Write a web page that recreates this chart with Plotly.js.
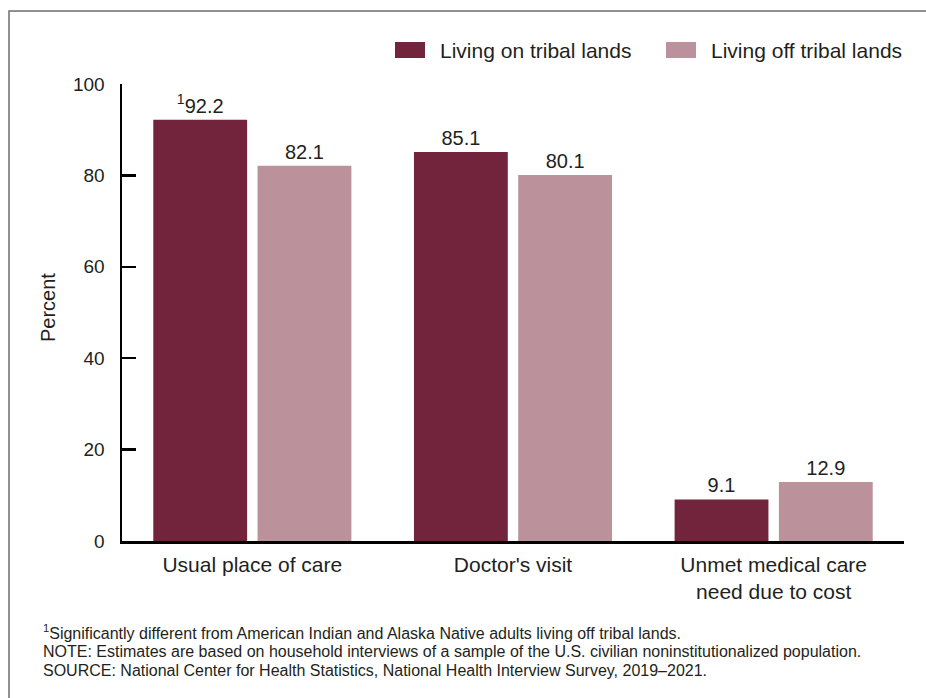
<!DOCTYPE html>
<html>
<head>
<meta charset="utf-8">
<script src="https://cdn.plot.ly/plotly-3.0.1.min.js"></script>
<style>
html,body{margin:0;padding:0;background:#fff;}
#chart{width:926px;height:698px;}
</style>
</head>
<body>
<div id="chart"></div>
<script>
var categories = ["Usual place of care", "Doctor's visit", "Unmet medical care<br>need due to cost"];
var seriesNames = ["Living on tribal lands", "Living off tribal lands"];
var onTribal = [92.2, 85.1, 9.1];
var offTribal = [82.1, 80.1, 12.9];
var onTribalFlag = [true, false, false];
var offTribalFlag = [false, false, false];
var yTicks = [0, 20, 40, 60, 80, 100];
var footnotes = [
  "<sup>1</sup>Significantly different from American Indian and Alaska Native adults living off tribal lands.",
  "NOTE: Estimates are based on household interviews of a sample of the U.S. civilian noninstitutionalized population.",
  "SOURCE: National Center for Health Statistics, National Health Interview Survey, 2019–2021."
];

var W = 926, H = 698;
var M = {l: 122, r: 22, t: 84, b: 157};
var pw = W - M.l - M.r, ph = H - M.t - M.b;
function px(x){ return (x - M.l) / pw; }
function py(y){ return (H - M.b - y) / ph; }

var FONT = "Liberation Sans, Arial, Helvetica, sans-serif";
var TXT = "#231f20";
var DARK = "#73243d";
var LIGHT = "#bb919b";

function labels(vals, flags){
  return vals.map(function(v, i){ return (flags[i] ? "<sup>1</sup>" : "") + v.toFixed(1); });
}

var traces = [
  {type: "bar", name: seriesNames[0], x: categories, y: onTribal,
   marker: {color: DARK}, text: labels(onTribal, onTribalFlag),
   textposition: "outside", cliponaxis: false, hoverinfo: "none",
   textfont: {family: FONT, size: 20, color: TXT}},
  {type: "bar", name: seriesNames[1], x: categories, y: offTribal,
   marker: {color: LIGHT}, text: labels(offTribal, offTribalFlag),
   textposition: "outside", cliponaxis: false, hoverinfo: "none",
   textfont: {family: FONT, size: 20, color: TXT}}
];

var shapes = [
  {type: "rect", xref: "paper", yref: "paper",
   x0: px(9), x1: px(960), y0: py(11), y1: py(740),
   line: {color: "#6d6d6d", width: 1.5}, fillcolor: "rgba(0,0,0,0)", layer: "below"},
  {type: "rect", xref: "paper", yref: "paper",
   x0: px(395), x1: px(425), y0: py(42), y1: py(58),
   line: {width: 0}, fillcolor: DARK},
  {type: "rect", xref: "paper", yref: "paper",
   x0: px(666), x1: px(696), y0: py(42), y1: py(58),
   line: {width: 0}, fillcolor: LIGHT}
];

var annotations = [
  {xref: "paper", yref: "paper", x: px(438), y: py(50), xanchor: "left", yanchor: "middle",
   text: seriesNames[0], showarrow: false, font: {family: FONT, size: 21, color: TXT}},
  {xref: "paper", yref: "paper", x: px(709), y: py(50), xanchor: "left", yanchor: "middle",
   text: seriesNames[1], showarrow: false, font: {family: FONT, size: 21, color: TXT}},
  {xref: "paper", yref: "paper", x: px(48), y: py(308), xanchor: "center", yanchor: "middle",
   text: "Percent", textangle: -90, showarrow: false, font: {family: FONT, size: 20, color: TXT}}
];
var footY = [632, 651, 670];
footnotes.forEach(function(t, i){
  annotations.push({xref: "paper", yref: "paper", x: px(41), y: py(footY[i]),
    xanchor: "left", yanchor: "middle", text: t, showarrow: false,
    font: {family: FONT, size: 16, color: TXT}});
});

var layout = {
  width: W, height: H,
  margin: M,
  paper_bgcolor: "#fff", plot_bgcolor: "#fff",
  showlegend: false,
  barmode: "group", bargap: 0.2, bargroupgap: 0.1,
  font: {family: FONT, color: TXT},
  xaxis: {
    type: "category", showgrid: false, zeroline: false,
    showline: true, linecolor: "#000", linewidth: 2.5,
    ticks: "", tickfont: {family: FONT, size: 21, color: TXT},
    ticklabelstandoff: 3,
    fixedrange: true
  },
  yaxis: {
    range: [0, 100], tickvals: yTicks, ticktext: yTicks.map(String),
    showgrid: false, zeroline: false,
    showline: true, linecolor: "#000", linewidth: 2.5,
    ticks: "inside", ticklen: 14, tickwidth: 2.5, tickcolor: "#000",
    ticklabelstandoff: 11,
    tickfont: {family: FONT, size: 19, color: TXT},
    fixedrange: true
  },
  shapes: shapes,
  annotations: annotations
};

Plotly.newPlot("chart", traces, layout, {displayModeBar: false, staticPlot: true});
</script>
</body>
</html>
